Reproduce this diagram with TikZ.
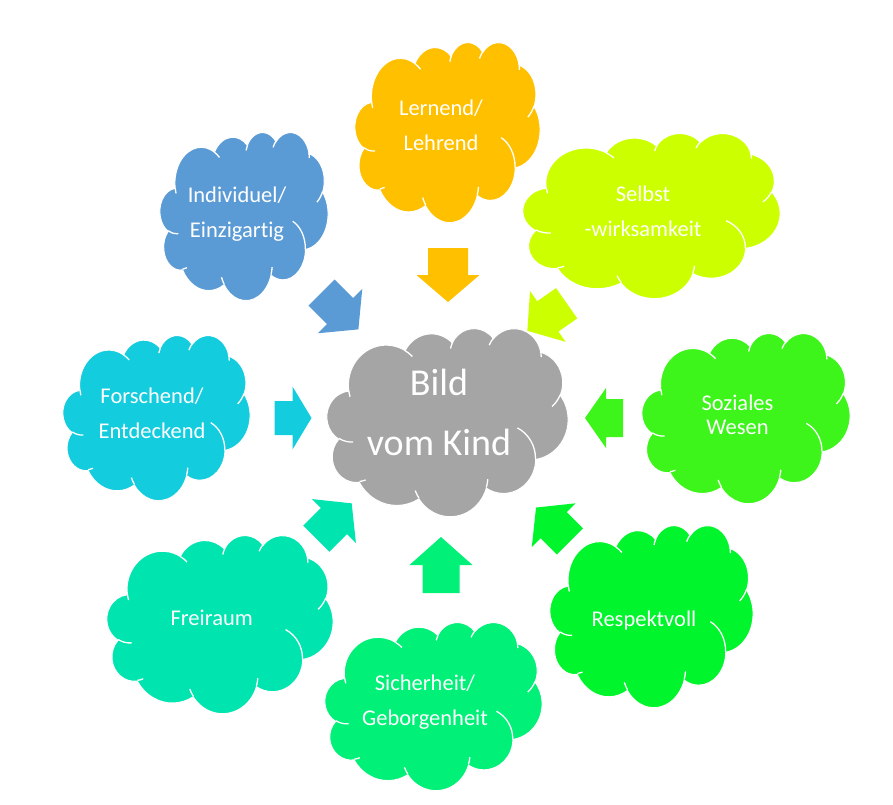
\documentclass[tikz,border=0pt]{standalone}
\usepackage{fontspec}
\setmainfont{Carlito}[Ligatures=NoCommon]
\definecolor{cgray}{HTML}{A5A5A5}
\definecolor{corange}{HTML}{FFC000}
\definecolor{cblue}{HTML}{5B9BD5}
\definecolor{cselbst}{HTML}{CCFF00}
\definecolor{cforsch}{HTML}{13CCDD}
\definecolor{csozial}{HTML}{3DF51A}
\definecolor{crespekt}{HTML}{00F52C}
\definecolor{csicher}{HTML}{00F078}
\definecolor{cfrei}{HTML}{00E4B0}
\makeatletter
\newcommand\cloudtmp{}
\newcommand\cloudarc[4]{%
  \edef\cl@a{\fpeval{round(atand((#1)*sind((#3)/60000),(#2)*cosd((#3)/60000)),4)}}%
  \edef\cl@b{\fpeval{round(atand((#1)*sind(((#3)+(#4))/60000),(#2)*cosd(((#3)+(#4))/60000)),4)}}%
  \edef\cl@d{\fpeval{\cl@b-\cl@a}}%
  \edef\cl@d{\fpeval{round(\cl@d-360*round((\cl@d-(#4)/60000)/360),4)}}%
  \edef\cl@x{\fpeval{round((#1)/43200,5)}}%
  \edef\cl@y{\fpeval{round((#2)/43200,5)}}%
  \xdef\cloudtmp{\cloudtmp arc[start angle=\cl@a, delta angle=\cl@d, x radius=\cl@x, y radius=\cl@y]}%
}
\newcommand\cloudmove[2]{%
  \xdef\cloudtmp{\cloudtmp (\fpeval{round((#1)/43200,5)},\fpeval{round((#2)/43200,5)})}%
}
\makeatother
% outer outline of the cloud
\cloudmove{3900}{14370}
\cloudarc{6753}{9190}{-11429249}{7426832}
\cloudarc{5333}{7267}{-8646143}{5396714}
\cloudarc{4365}{5945}{-8748475}{5983381}
\cloudarc{4857}{6595}{-7859164}{7034504}
\cloudarc{5333}{7273}{-4722533}{6541615}
\cloudarc{6775}{9220}{-2776035}{7816140}
\cloudarc{5785}{7867}{37501}{6842000}
\cloudarc{6752}{9215}{1347096}{6910353}
\cloudarc{7720}{10543}{3974558}{4542661}
\cloudarc{4360}{5918}{-16496525}{8804134}
\cloudarc{4345}{5945}{-14809710}{9151131}
\xdef\cloudouter{\cloudtmp -- cycle}
% inner arcs
\gdef\cloudtmp{}
\cloudmove{4693}{26177}\cloudarc{4345}{5945}{5204520}{1585770}
\cloudmove{6928}{34899}\cloudarc{4360}{5918}{4416628}{686848}
\cloudmove{16478}{39090}\cloudarc{6752}{9215}{8257449}{844866}
\cloudmove{28827}{34751}\cloudarc{6752}{9215}{387196}{959901}
\cloudmove{34129}{22954}\cloudarc{5785}{7867}{-4217541}{4255042}
\cloudmove{41798}{15354}\cloudarc{5333}{7273}{1819082}{1665090}
\cloudmove{38324}{5426}\cloudarc{4857}{6595}{-824660}{891070}
\cloudmove{29078}{3952}\cloudarc{4857}{6595}{-8950887}{1091062}
\cloudmove{22141}{4720}\cloudarc{4365}{5945}{-9809656}{1061286}
\cloudmove{14000}{5192}\cloudarc{6753}{9190}{-4002417}{739161}
\cloudmove{4127}{15789}\cloudarc{6753}{9190}{9459261}{711490}
\global\let\cloudinner\cloudtmp

\newcommand\cloudshape[5]{% left top width height colour
  \begin{scope}[shift={(#1,#2)}, xscale=#3, yscale=#4]
    \fill[#5, draw=white, line width=1pt] \cloudouter;
    \draw[white, line width=1.3pt] \cloudinner;
  \end{scope}}
\newcommand\blockarrow[9]{% name x y angle length headlength shaftwidth headwidth colour
  \coordinate (#1) at (#2,#3);
  \fill[#9, shift={(#1)}, rotate=#4]
    (-#5/2,-#7/2) -- (#5/2-#6,-#7/2) -- (#5/2-#6,-#8/2) -- (#5/2,0)
    -- (#5/2-#6,#8/2) -- (#5/2-#6,#7/2) -- (-#5/2,#7/2) -- cycle;}
\newcommand\twol[2]{\begin{tabular}[b]{@{}c@{}}#1\\#2\end{tabular}}
\tikzset{
  lbl/.style={text=white, font=\fontsize{22.5}{35}\selectfont, inner sep=0pt, anchor=base},
  biglbl/.style={lbl, font=\fontsize{38}{60}\selectfont},
}
\begin{document}
\begin{tikzpicture}[x=1pt, y=-1pt]
\useasboundingbox (0,0) rectangle (893,804);
% clouds
\cloudshape{327}{328}{241}{188}{cgray}
\cloudshape{355}{42}{185}{180}{corange}
\cloudshape{160}{132}{168}{168}{cblue}
\cloudshape{523}{133}{257}{165}{cselbst}
\cloudshape{63}{335}{187}{165}{cforsch}
\cloudshape{642}{333}{208}{170}{csozial}
\cloudshape{107}{535}{226}{178}{cfrei}
\cloudshape{325}{622}{217}{168}{csicher}
\cloudshape{550}{525}{203}{182}{crespekt}
% block arrows
\blockarrow{aLern}{448}{275}{-90}{54}{27}{40}{63}{corange}
\blockarrow{aIndiv}{340}{311}{-45}{52}{26}{37}{63}{cblue}
\blockarrow{aSelbst}{547}{317}{-145}{48}{25}{37}{62}{cselbst}
\blockarrow{aForsch}{293}{418}{0}{37}{19}{34}{63}{cforsch}
\blockarrow{aSozial}{604}{418}{180}{38}{21}{38}{60}{csozial}
\blockarrow{aFrei}{334}{521}{45}{50}{25}{37}{62}{cfrei}
\blockarrow{aSicher}{441}{565}{90}{56}{28}{37}{63}{csicher}
\blockarrow{aRespekt}{553}{524.5}{135}{48}{25}{37}{62}{crespekt}
% texts
\node[biglbl] (kind) at (439,455) {\twol{Bild}{vom Kind}};
\node[lbl] (lern) at (441,150) {\twol{Lernend/}{Lehrend}};
\node[lbl] (indiv) at (237,237) {\twol{Individuel/}{Einzigartig}};
\node[lbl] (selbst) at (643,236) {\twol{Selbst}{-wirksamkeit}};
\node[lbl] (forsch) at (152,438) {\twol{Forschend/}{Entdeckend}};
\node[lbl, font=\fontsize{22.5}{24}\selectfont] (sozial) at (737.5,434) {\twol{Soziales}{Wesen}};
\node[lbl] (frei) at (211.7,625.7) {Freiraum};
\node[lbl] (sicher) at (425,725) {\twol{Sicherheit/}{Geborgenheit}};
\node[lbl] (respekt) at (644,626) {Respektvoll};
\end{tikzpicture}
\end{document}
